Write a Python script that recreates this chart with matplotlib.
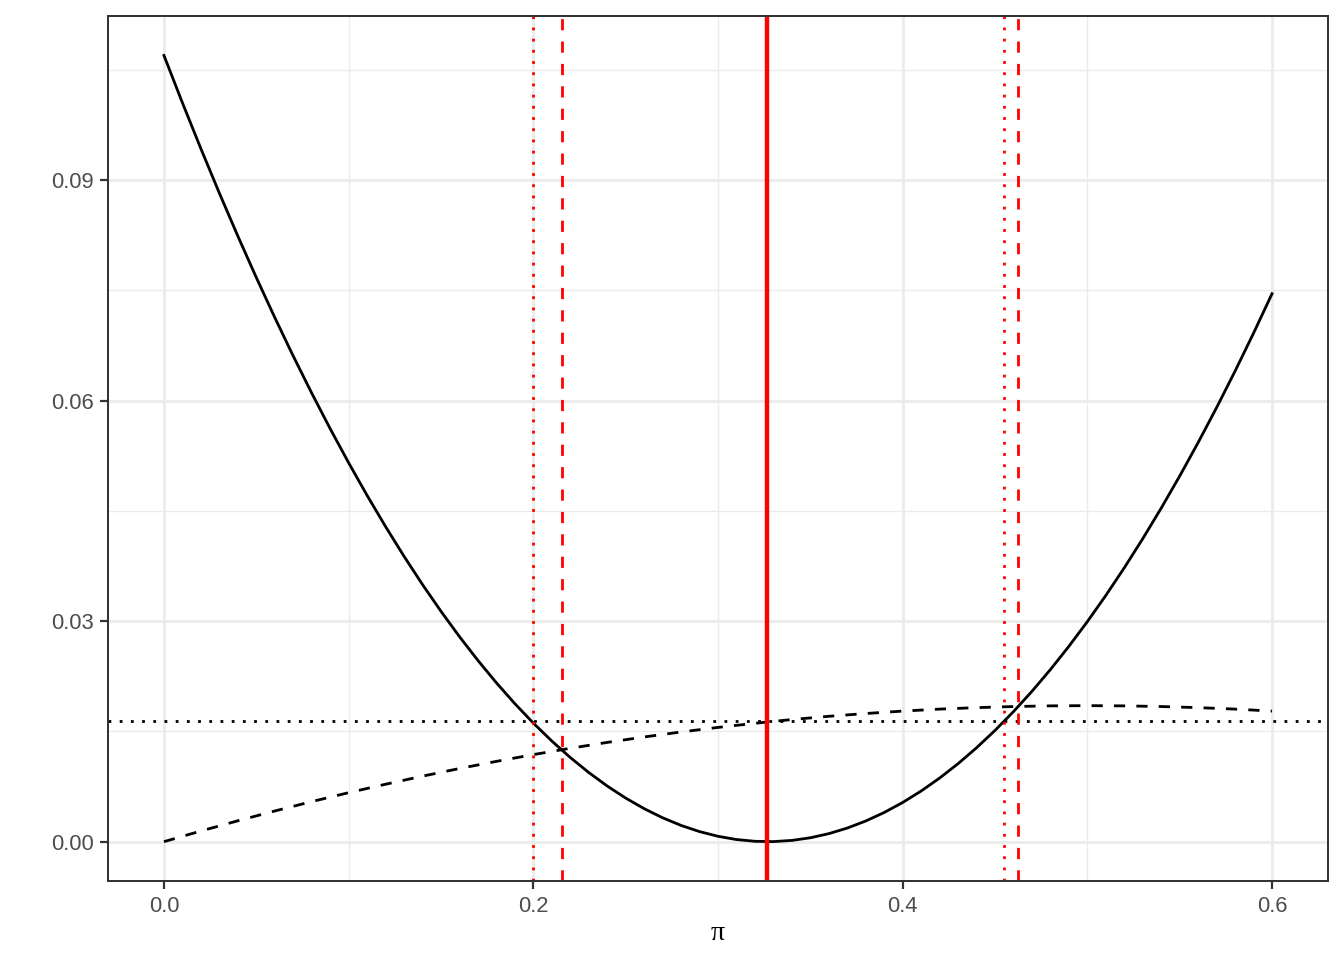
import matplotlib
matplotlib.use("Agg")
import matplotlib.pyplot as plt
from matplotlib.ticker import FixedLocator

# values
pi_solid = [i / 100 for i in range(61)]
solid_curve = [0.10693, 0.10049, 0.09425, 0.08821, 0.08237, 0.07673, 0.07129,
               0.06605, 0.06101, 0.05617, 0.05153, 0.04709, 0.04285, 0.03881,
               0.03497, 0.03133, 0.02789, 0.02465, 0.02161, 0.01877, 0.01613,
               0.01369, 0.01145, 0.00941, 0.00757, 0.00593, 0.00449, 0.00325,
               0.00221, 0.00137, 0.00073, 0.00029, 0.00005, 0.00001, 0.00017,
               0.00053, 0.00109, 0.00185, 0.00281, 0.00397, 0.00533, 0.00689,
               0.00865, 0.01061, 0.01277, 0.01513, 0.01769, 0.02045, 0.02341,
               0.02657, 0.02993, 0.03349, 0.03725, 0.04121, 0.04537, 0.04973,
               0.05429, 0.05905, 0.06401, 0.06917, 0.07453]
pi_dashed = [0.00, 0.02, 0.04, 0.06, 0.08, 0.10, 0.12, 0.14, 0.16, 0.18,
             0.20, 0.22, 0.24, 0.26, 0.28, 0.30, 0.32, 0.34, 0.36, 0.38,
             0.40, 0.42, 0.44, 0.46, 0.48, 0.50, 0.52, 0.54, 0.56, 0.58, 0.60]
dashed_curve = [0.0000, 0.00145, 0.00284, 0.00417, 0.00545, 0.00666, 0.00781,
                0.00891, 0.00995, 0.01092, 0.01184, 0.01270, 0.01350, 0.01424,
                0.01492, 0.01554, 0.01610, 0.01661, 0.01705, 0.01743, 0.01776,
                0.01803, 0.01823, 0.01838, 0.01847, 0.01850, 0.01847, 0.01838,
                0.01823, 0.01803, 0.01776]
hline_level = 0.0164
estimate = 0.3268
dotted_bounds = [0.1996, 0.4550]
dashed_bounds = [0.2153, 0.4626]

x_ticks = [0.0, 0.2, 0.4, 0.6]
x_labels = ["0.0", "0.2", "0.4", "0.6"]
y_ticks = [0.00, 0.03, 0.06, 0.09]
y_labels = ["0.00", "0.03", "0.06", "0.09"]

plt.rcParams['font.family'] = ['Liberation Sans', 'DejaVu Sans']

fig = plt.figure(figsize=(1344 / 144, 960 / 144), dpi=144)
ax = fig.add_axes([108 / 1344, 1 - 881 / 960, 1220 / 1344, 865 / 960])

lw = 1.4
# grid, theme_bw style
for v in [0.1, 0.3, 0.5]:
    ax.axvline(v, color="#EBEBEB", lw=0.7, zorder=0)
for v in [0.015, 0.045, 0.075, 0.105]:
    ax.axhline(v, color="#EBEBEB", lw=0.7, zorder=0)
for v in x_ticks:
    ax.axvline(v, color="#EBEBEB", lw=1.4, zorder=0)
for v in y_ticks:
    ax.axhline(v, color="#EBEBEB", lw=1.4, zorder=0)

ax.plot(pi_solid, solid_curve, color="black", lw=lw)
ax.plot(pi_dashed, dashed_curve, color="black", lw=lw, dashes=(4, 4))
ax.axhline(hline_level, color="black", lw=lw, dashes=(1, 3))
ax.axvline(estimate, color="red", lw=2.2)
for v in dotted_bounds:
    ax.axvline(v, color="red", lw=lw, dashes=(1, 3))
for v in dashed_bounds:
    ax.axvline(v, color="red", lw=lw, dashes=(4, 4))

ax.set_xlim(-0.0303, 0.6303)
ax.set_ylim(-0.00535, 0.1123)
ax.xaxis.set_major_locator(FixedLocator(x_ticks))
ax.yaxis.set_major_locator(FixedLocator(y_ticks))
ax.set_xticklabels(x_labels)
ax.set_yticklabels(y_labels)
ax.tick_params(length=4, width=1.1, color="#333333", labelcolor="#4D4D4D",
               labelsize=11, pad=3.3)
for s in ax.spines.values():
    s.set_color("#333333")
    s.set_linewidth(1.0)
ax.set_xlabel("π", family=["Liberation Serif", "DejaVu Serif"], fontsize=14,
              labelpad=2)

fig.savefig("out.png", dpi=144)
